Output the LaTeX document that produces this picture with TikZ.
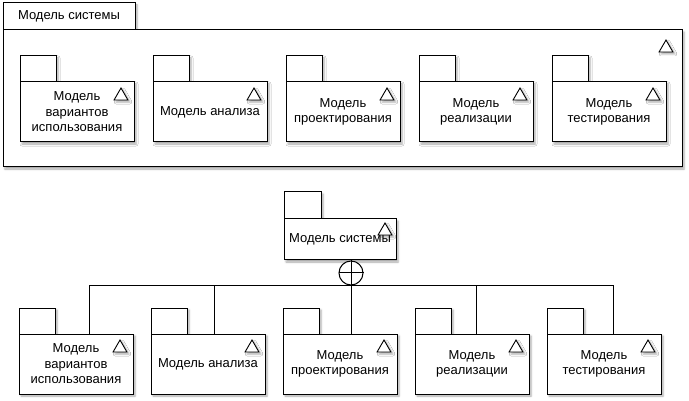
\documentclass[tikz,border=0pt]{standalone}
\usepackage{fontspec}
\newfontfamily\pkgfont{Liberation Sans}
\newcommand\pkgtext{\pkgfont\fontsize{13}{15.5}\selectfont}
\usetikzlibrary{positioning,calc,shapes.geometric,shadows.blur}
\tikzset{
    umlpkg/.style={
        x=1pt, y=-1pt,
        line width=1pt,
        % ombra sfumata
        soft/.style={blur shadow={shadow xshift=2pt, shadow yshift=-2pt,
                     shadow blur radius=2pt, shadow opacity=35}},
        % linguetta del pacchetto
        pkgtab/.style={draw, fill=white, rectangle, anchor=north west,
                       minimum width=36pt, minimum height=26pt,
                       inner sep=0pt, outer sep=0pt, font=\pkgtext, soft},
        % corpo del pacchetto
        pkgbody/.style={draw, fill=white, rectangle, align=center,
                        minimum width=114pt, minimum height=60pt,
                        inner sep=2pt, outer sep=0pt, font=\pkgtext, soft},
        % triangolo del modello
        trimark/.style={draw, fill=white, regular polygon, regular polygon sides=3,
                        minimum size=16pt, inner sep=0pt, line width=0.9pt, soft},
        % cerchio di contenimento
        hub/.style={draw, fill=white, circle, minimum size=24pt, inner sep=0pt}
    }
}
\begin{document}
\begin{tikzpicture}[umlpkg]
    \useasboundingbox (0,0) rectangle (689,401);
    % contenitore
    \node[pkgtab, minimum width=132pt, minimum height=27pt] (ftab) at (3,3) {Модель системы};
    \node[pkgbody, anchor=north west, minimum width=679pt, minimum height=137pt] (frame) at (ftab.south west) {};
    \node[trimark] at ($(frame.north east)+(-16,18)$) {};
    \foreach \name/\x/\txt in {a1/20/{Модель\\вариантов\\использования},
                               a2/153/{Модель анализа},
                               a3/286/{Модель\\проектирования},
                               a4/419/{Модель\\реализации},
                               a5/552/{Модель\\тестирования}}{
        \node[pkgtab] (\name-tab) at (\x,56) {};
        \node[pkgbody, anchor=north west] (\name) at (\name-tab.south west) {\txt};
        \node[trimark] at ($(\name.north east)+(-13,14)$) {};
    }
    % albero
    \node[pkgtab, minimum width=37pt, minimum height=27pt] (sys-tab) at (284,192) {};
    \node[pkgbody, anchor=north west, minimum width=112pt, minimum height=41pt] (sys) at (sys-tab.south west) {\raisebox{-3pt}{Модель системы}};
    \node[trimark] at ($(sys.north east)+(-11,12)$) {};
    \foreach \name/\x/\txt in {d1/19/{Модель\\вариантов\\использования},
                               d2/151/{Модель анализа},
                               d3/283/{Модель\\проектирования},
                               d4/415/{Модель\\реализации},
                               d5/547/{Модель\\тестирования}}{
        \node[pkgtab] (\name-tab) at (\x,308) {};
        \node[pkgbody, anchor=north west] (\name) at (\name-tab.south west) {\txt};
        \node[trimark] at ($(\name.north east)+(-13,14)$) {};
    }
    \node[hub] (hub) at ($(sys.south)+(11,13)$) {};
    \draw (hub.south) -- (d3.north -| hub.south);
    \foreach \name/\x in {d1/89, d2/214, d4/476, d5/613}
        \draw (hub.south) -| (\x,0 |- \name.north);
    \draw (hub.north) -- (hub.south) (hub.west) -- (hub.east);
\end{tikzpicture}
\end{document}
